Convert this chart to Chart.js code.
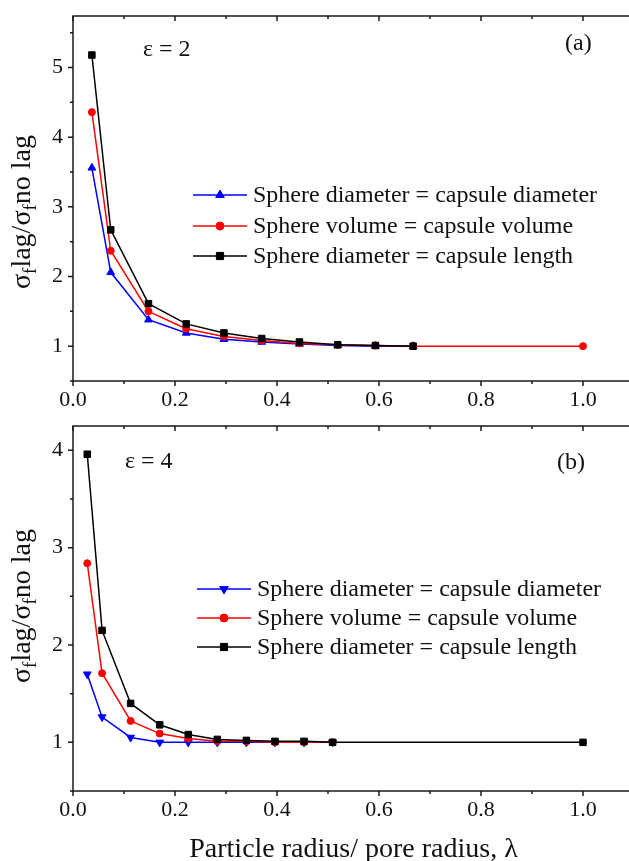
<!DOCTYPE html>
<html>
<head>
<meta charset="utf-8">
<script src="https://cdn.jsdelivr.net/npm/chart.js@4.4.0/dist/chart.umd.min.js"></script>
<style>
  html, body { margin: 0; padding: 0; background: #fff; overflow: hidden; width: 629px; height: 861px; }
  canvas { position: absolute; left: 0; }
  #chartA { top: 0; }
  #chartB { top: 410px; }
</style>
</head>
<body>
<canvas id="chartA" width="640" height="430"></canvas>
<canvas id="chartB" width="640" height="454"></canvas>
<script>
const FONT = "'Liberation Serif', 'Times New Roman', serif";

const seriesLabels = [
    "Sphere diameter = capsule diameter",
    "Sphere volume = capsule volume",
    "Sphere diameter = capsule length"
];
const seriesColors = ["#0000ff", "#ff0000", "#000000"];

const xMajorTicks = [0, 0.2, 0.4, 0.6, 0.8, 1.0];
const xMinorTicks = [0.1, 0.3, 0.5, 0.7, 0.9, 1.1];

// (a) epsilon = 2
const lambdaA = [0.037, 0.074, 0.148, 0.222, 0.296, 0.370, 0.444, 0.519, 0.593, 0.667, 1.0];
const diamDiamA = [3.56, 2.06, 1.38, 1.19, 1.10, 1.06, 1.03, 1.01, 1.00, 1.00];
const volVolA   = [4.36, 2.37, 1.50, 1.25, 1.14, 1.08, 1.04, 1.02, 1.01, 1.00, 1.00];
const diamLenA  = [5.18, 2.67, 1.61, 1.32, 1.19, 1.11, 1.06, 1.02, 1.01, 1.00];
const yMajorA = [1, 2, 3, 4, 5];
const yMinorA = [0.5, 1.5, 2.5, 3.5, 4.5, 5.5];

// (b) epsilon = 4
const lambdaB = [0.028, 0.057, 0.113, 0.170, 0.226, 0.283, 0.340, 0.396, 0.453, 0.509, 1.0];
const diamDiamB = [1.70, 1.26, 1.05, 1.00, 1.00, 1.00, 1.00, 1.00, 1.00, 1.00];
const volVolB   = [2.84, 1.71, 1.22, 1.09, 1.04, 1.01, 1.01, 1.00, 1.00, 1.00];
const diamLenB  = [3.96, 2.15, 1.40, 1.18, 1.08, 1.03, 1.02, 1.01, 1.01, 1.00, 1.00];
const yMajorB = [1, 2, 3, 4];
const yMinorB = [0.5, 1.5, 2.5, 3.5];

const pts = (xs, ys) => ys.map((y, i) => ({ x: xs[i], y: y }));

function makeDatasets(xs, series, markers) {
    return series.map((ys, i) => ({
        label: seriesLabels[i],
        data: pts(xs, ys),
        borderColor: seriesColors[i],
        backgroundColor: seriesColors[i],
        borderWidth: 1.5,
        pointStyle: markers[i].style,
        pointRotation: markers[i].rotation || 0,
        pointRadius: markers[i].radius,
        pointBorderWidth: 1,
        pointHoverRadius: markers[i].radius,
        tension: 0,
        order: 3 - i
    }));
}

// frame, ticks, legend and in-plot labels
const panelDecor = {
    id: "panelDecor",
    afterDraw(chart, args, o) {
        const { ctx, chartArea: a, scales: { x, y } } = chart;
        ctx.save();
        ctx.strokeStyle = "#1a1a1a";
        ctx.lineWidth = 1.5;
        ctx.strokeRect(a.left, a.top, a.right - a.left, a.bottom - a.top);

        ctx.beginPath();
        const tick = (x0, y0, x1, y1) => { ctx.moveTo(x0, y0); ctx.lineTo(x1, y1); };
        xMajorTicks.forEach(v => {
            const p = x.getPixelForValue(v);
            tick(p, a.bottom, p, a.bottom + 5);
            tick(p, a.top, p, a.top + 5);
        });
        xMinorTicks.forEach(v => {
            const p = x.getPixelForValue(v);
            tick(p, a.bottom, p, a.bottom + 3);
            tick(p, a.top, p, a.top + 3);
        });
        o.yMajor.forEach(v => {
            const p = y.getPixelForValue(v);
            tick(a.left - 5, p, a.left, p);
        });
        o.yMinor.forEach(v => {
            const p = y.getPixelForValue(v);
            tick(a.left - 3, p, a.left, p);
        });
        ctx.stroke();

        // legend
        const ds = chart.data.datasets;
        o.legendRows.forEach((ry, i) => {
            const d = ds[i];
            ctx.strokeStyle = d.borderColor;
            ctx.fillStyle = d.backgroundColor;
            ctx.lineWidth = d.borderWidth;
            ctx.beginPath();
            ctx.moveTo(o.legendX, ry);
            ctx.lineTo(o.legendX + 54, ry);
            ctx.stroke();
            ctx.lineWidth = 1;
            Chart.helpers.drawPoint(ctx, {
                pointStyle: d.pointStyle,
                rotation: d.pointRotation,
                radius: d.pointRadius + 0.5,
                borderWidth: 1
            }, o.legendX + 27, ry);
            ctx.fillStyle = "#111";
            ctx.font = "24px " + FONT;
            ctx.textAlign = "left";
            ctx.textBaseline = "middle";
            ctx.fillText(d.label, o.legendX + 60, ry + 1);
        });

        // epsilon and panel letter
        ctx.fillStyle = "#111";
        ctx.font = "24px " + FONT;
        ctx.textBaseline = "middle";
        ctx.fillText(o.eps, o.epsX, o.epsY);
        ctx.fillText(o.tag, o.tagX, o.tagY);

        // y-axis title with subscripts
        const parts = [["σ", 0], ["f", 1], ["lag/σ", 0], ["f", 1], ["no lag", 0]];
        const big = "28px " + FONT, small = "19px " + FONT;
        let total = 0;
        parts.forEach(p => { ctx.font = p[1] ? small : big; total += ctx.measureText(p[0]).width; });
        ctx.translate(30, o.yTitleY);
        ctx.rotate(-Math.PI / 2);
        ctx.textBaseline = "alphabetic";
        let cx = -total / 2;
        parts.forEach(p => {
            ctx.font = p[1] ? small : big;
            ctx.fillText(p[0], cx, p[1] ? 6 : 0);
            cx += ctx.measureText(p[0]).width;
        });
        ctx.restore();
    }
};

function makeOptions(yMin, yMax, yMajor, canvasH, xTitle, decor) {
    return {
        responsive: false,
        animation: false,
        layout: { padding: { left: 0, top: 16, right: 6, bottom: 0 } },
        plugins: {
            legend: { display: false },
            tooltip: { enabled: false },
            panelDecor: decor
        },
        scales: {
            x: {
                type: "linear",
                min: 0,
                max: 1.1,
                afterBuildTicks: s => { s.ticks = xMajorTicks.map(v => ({ value: v })); },
                afterFit: s => {
                    s.height = canvasH - 381;
                    s.paddingLeft = 0; s.paddingRight = 0;
                },
                grid: { display: false, drawTicks: false },
                border: { display: false },
                ticks: {
                    padding: 6,
                    color: "#111",
                    font: { family: FONT, size: 22 },
                    maxRotation: 0,
                    autoSkip: false,
                    callback: v => v.toFixed(1)
                },
                title: {
                    display: !!xTitle,
                    text: xTitle || "",
                    color: "#111",
                    font: { family: FONT, size: 28, lineHeight: 1 },
                    padding: { top: 0, bottom: 0 }
                }
            },
            y: {
                type: "linear",
                min: yMin,
                max: yMax,
                afterBuildTicks: s => { s.ticks = yMajor.map(v => ({ value: v })); },
                afterFit: s => {
                    s.width = 73;
                    s.paddingTop = 0; s.paddingBottom = 0;
                },
                grid: { display: false, drawTicks: false },
                border: { display: false },
                ticks: {
                    padding: 10,
                    color: "#111",
                    font: { family: FONT, size: 22 },
                    autoSkip: false,
                    callback: v => String(v)
                }
            }
        }
    };
}

new Chart(document.getElementById("chartA"), {
    type: "line",
    data: {
        datasets: makeDatasets(lambdaA, [diamDiamA, volVolA, diamLenA], [
            { style: "triangle", radius: 4.5 },
            { style: "circle", radius: 3.5 },
            { style: "rect", radius: 4.6 }
        ])
    },
    options: makeOptions(0.5, 5.74, yMajorA, 430, null, {
        yMajor: yMajorA, yMinor: yMinorA,
        legendX: 193, legendRows: [195, 226, 256],
        eps: "ε = 2", epsX: 143, epsY: 50,
        tag: "(a)", tagX: 565, tagY: 44,
        yTitleY: 212
    }),
    plugins: [panelDecor]
});

new Chart(document.getElementById("chartB"), {
    type: "line",
    data: {
        datasets: makeDatasets(lambdaB, [diamDiamB, volVolB, diamLenB], [
            { style: "triangle", radius: 4.5, rotation: 180 },
            { style: "circle", radius: 3.5 },
            { style: "rect", radius: 4.6 }
        ])
    },
    options: makeOptions(0.5, 4.25, yMajorB, 454, "Particle radius/ pore radius, λ", {
        yMajor: yMajorB, yMinor: yMinorB,
        legendX: 197, legendRows: [179, 208, 237],
        eps: "ε = 4", epsX: 125, epsY: 52,
        tag: "(b)", tagX: 557, tagY: 53,
        yTitleY: 196
    }),
    plugins: [panelDecor]
});
</script>
</body>
</html>
